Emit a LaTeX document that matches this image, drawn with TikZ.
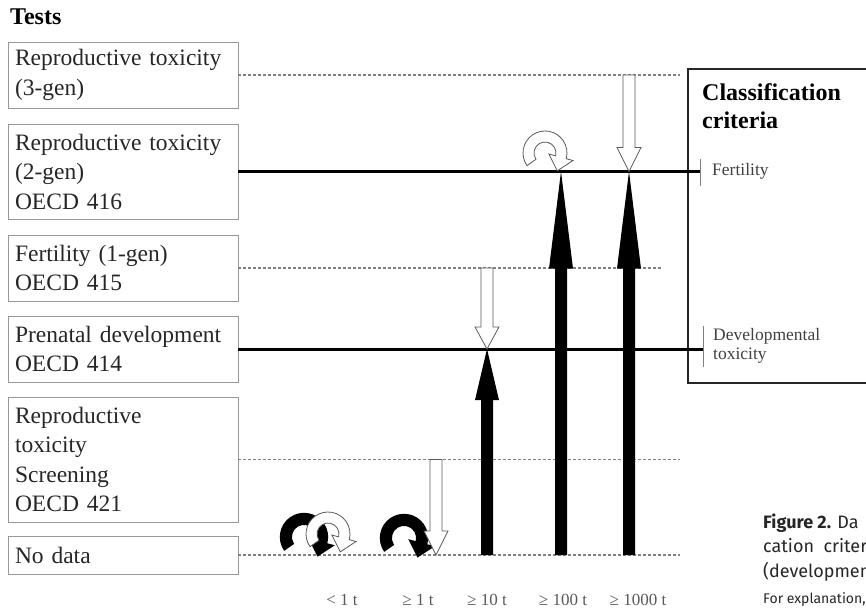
\documentclass[tikz,border=0pt]{standalone}
\usepackage{fontspec}
\setmainfont{Liberation Serif}
\newfontfamily\capfont{Fira Sans}
\usetikzlibrary{calc, positioning}
\tikzset{
    testbox/.style = {draw=gray!80, line width=0.9pt, rectangle, minimum width=230pt, text width=216pt,
      inner xsep=7pt, inner ysep=0pt, align=left, text=black!85, font=\fontsize{23.5}{29.5}\selectfont},
    headnode/.style = {draw=none, inner sep=0pt, anchor=base west, align=left,
      font=\fontsize{24}{28}\selectfont\bfseries},
    critnode/.style = {draw=none, inner sep=0pt, anchor=west, align=left, text=black!75,
      font=\fontsize{17.5}{19}\selectfont},
    tonnode/.style = {draw=none, inner sep=0pt, anchor=base, text=black!65, font=\fontsize{17}{19}\selectfont},
    dotline/.style = {gray, line width=1.2pt, dash pattern=on 3pt off 2pt},
    levelline/.style = {black, line width=3pt},
    tickline/.style = {gray, line width=1pt},
    upfill/.style = {fill=black, to path={
      ($(\tikztostart)+(-6,0)$) -- ($(\tikztotarget)+(-6,#1)$) -- ($(\tikztotarget)+(-12,#1)$)
      -- (\tikztotarget) -- ($(\tikztotarget)+(12,#1)$) -- ($(\tikztotarget)+(6,#1)$)
      -- ($(\tikztostart)+(6,0)$) -- cycle}},
    hollowdown/.style = {fill=white, draw=gray!70!black, line width=0.8pt, to path={
      ($(\tikztostart)+(-6,0)$) -- ($(\tikztotarget)+(-6,-#1)$) -- ($(\tikztotarget)+(-12,-#1)$)
      -- (\tikztotarget) -- ($(\tikztotarget)+(12,-#1)$) -- ($(\tikztotarget)+(6,-#1)$)
      -- ($(\tikztostart)+(6,0)$) -- cycle}},
    uturn/.pic = {
      \path[pic actions, yscale=-1] (215:22) arc[start angle=215, end angle=-15, radius=22]
        -- (-15:29) -- (12.3,-17.8) -- (-15:4) -- (-15:11)
        arc[start angle=-15, end angle=215, radius=11] -- cycle;
    }
}

\begin{document}
\begin{tikzpicture}[x=1pt, y=-1pt]
    \useasboundingbox (0,0) rectangle (866,610);

    % tests
    \node [headnode] (tests) at (10,25) {Tests};
    \node [testbox, minimum height=66] (t3gen) at (123,75) {Reproductive toxicity\\(3-gen)};
    \node [testbox, minimum height=95] (t2gen) at (123,171.5) {Reproductive toxicity\\(2-gen)\\OECD 416};
    \node [testbox, minimum height=66] (t1gen) at (123,268) {Fertility (1-gen)\\OECD 415};
    \node [testbox, minimum height=66] (prenatal) at (123,349) {Prenatal development\\OECD 414};
    \node [testbox, minimum height=125] (screening) at (123,459.5) {Reproductive\\toxicity\\Screening\\OECD 421};
    \node [testbox, minimum height=38] (nodata) at (123,555) {No data};

    % classification criteria
    \draw [black!85, line width=1.1pt] (866,69) -- (688,69) -- (688,383) -- (866,383);
    \node [headnode] (crit) at (702,128) {Classification\\criteria};
    \coordinate (fertick) at (700,171.5);
    \coordinate (devtick) at (703,349);
    \node [critnode] (fert) at (712,171) {Fertility};
    \node [critnode] (dev) at (713,346) {Developmental\\toxicity};
    \draw [tickline] ($(fertick)+(0,-13)$) -- ($(fertick)+(0,14)$);
    \draw [tickline] ($(devtick)+(0,-23)$) -- ($(devtick)+(0,18)$);

    % levels
    \coordinate (dotend) at (680,0);
    \draw [dotline] (t3gen.east) -- (t3gen.east -| dotend);
    \draw [dotline] (t1gen.east) -- ($(t1gen.east -| dotend)+(-17,0)$);
    \draw [dotline] (screening.east) -- (screening.east -| dotend);
    \draw [dotline] (nodata.east) -- (nodata.east -| dotend);
    \draw [levelline] (t2gen.east) -- (fertick);
    \draw [levelline] (prenatal.east) -- (devtick);

    % tonnage
    \node [tonnode] (lt1) at (342,605) {< 1 t};
    \node [tonnode] (ge1) at (418,605) {≥ 1 t};
    \node [tonnode] (ge10) at (487,605) {≥ 10 t};
    \node [tonnode] (ge100) at (563,605) {≥ 100 t};
    \node [tonnode] (ge1000) at (638,605) {≥ 1000 t};
    \coordinate (col1) at (436,0);
    \coordinate (col10) at (487,0);
    \coordinate (col100) at (561,0);
    \coordinate (col1000) at (629,0);

    % arrows
    \pic [fill=black, scale=1.1] at (304,537) {uturn};
    \pic [fill=white, draw=gray!70!black, line width=0.8pt] at (328,534) {uturn};
    \pic [fill=black, scale=1.1] at (404,538) {uturn};
    \pic [fill=white, draw=gray!70!black, line width=0.8pt] at (545,153) {uturn};
    \fill [upfill=51] (col10 |- nodata.east) to (col10 |- prenatal.east);
    \fill [upfill=97] (col100 |- nodata.east) to (col100 |- t2gen.east);
    \fill [upfill=97] (col1000 |- nodata.east) to (col1000 |- t2gen.east);
    \filldraw [hollowdown=24] (col1000 |- t3gen.east) to (col1000 |- t2gen.east);
    \filldraw [hollowdown=22] (col10 |- t1gen.east) to (col10 |- prenatal.east);
    \filldraw [hollowdown=24] (col1 |- screening.east) to (col1 |- nodata.east);

    % caption
    \begin{scope}
      \clip (740,500) rectangle (866,610);
      \node [anchor=base west, inner sep=0pt, align=left, text=black!85,
        font=\capfont\fontsize{18}{24.5}\selectfont] (caption) at (763,577)
        {\textbf{Figure 2.} Da\\cation\ \ criter\\(developmen};
      \node [anchor=base west, inner sep=0pt, text=black!85, font=\capfont\fontsize{14}{16}\selectfont]
        (capnote) at (763,603) {For explanation,};
    \end{scope}
\end{tikzpicture}
\end{document}
